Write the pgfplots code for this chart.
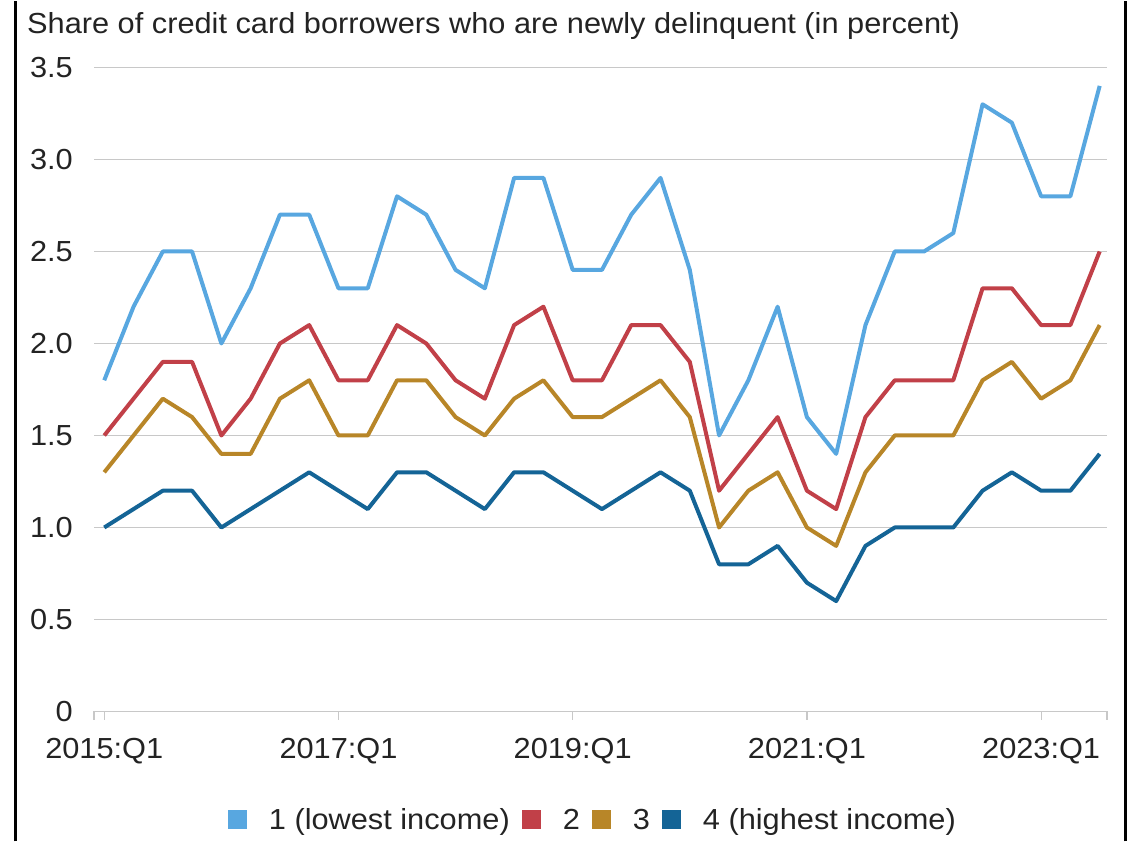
\documentclass[border=0pt]{standalone}
\usepackage{fontspec}
\setmainfont{Liberation Sans}[FakeStretch=1.06]
\usepackage{pgfplots}
\pgfplotsset{compat=1.18}
\newcommand\f{\fontsize{29pt}{34pt}\selectfont}
\definecolor{c1}{RGB}{88,167,224}
\definecolor{c2}{RGB}{193,64,72}
\definecolor{c3}{RGB}{184,134,40}
\definecolor{c4}{RGB}{20,100,150}
\definecolor{txt}{RGB}{35,35,35}
\definecolor{gridc}{RGB}{200,200,200}
\begin{document}
\begin{tikzpicture}
\path (0pt,0pt) rectangle (1140pt,840pt);
\draw[black,line width=3pt] (15.5pt,0pt) -- (15.5pt,840pt);
\draw[black,line width=3pt] (1125pt,0pt) -- (1125pt,840pt);
\node[anchor=base west, inner sep=0pt, font=\f, text=txt] at (27pt,808pt) {Share of credit card borrowers who are newly delinquent (in percent)};
\begin{axis}[
  at={(94pt,130pt)}, anchor=south west,
  scale only axis, width=1013pt, height=644pt,
  xmin=-0.35, xmax=34.25, ymin=0, ymax=3.5,
  axis x line*=bottom, axis y line*=left,
  y axis line style={draw=none},
  x axis line style={gridc, line width=1.5pt},
  xtick={0,8,16,24,32},
  xticklabels={2015:Q1,2017:Q1,2019:Q1,2021:Q1,2023:Q1},
  extra x ticks={-0.35,34.25}, extra x tick labels={},
  extra x tick style={grid=none},
  ytick={0,0.5,1,1.5,2,2.5,3,3.5},
  yticklabels={0,0.5,1.0,1.5,2.0,2.5,3.0,3.5},
  ymajorgrids, grid style={gridc, line width=1.5pt},
  tick align=outside, major tick length=8pt,
  xtick style={gridc, line width=1.2pt},
  ytick style={draw=none},
  ticklabel style={font=\f, text=txt, inner sep=0pt},
  yticklabel style={anchor=east, xshift=-13pt},
  xticklabel style={anchor=north, yshift=-19pt},
  legend columns=4,
  legend style={at={(0.4925,-0.168)}, anchor=center, draw=none, fill=none, font=\f, text=txt,
    /tikz/every odd column/.append style={column sep=20pt},
    /tikz/every even column/.append style={column sep=10pt},
    nodes={inner sep=2pt}},
  legend image code/.code={\fill[#1,draw=none] (0pt,-9.5pt) rectangle (19pt,9.5pt);},
  every axis plot/.append style={line width=4pt, line join=round, no markers},
]
\addplot[c1] coordinates {(0,1.8)(1,2.2)(2,2.5)(3,2.5)(4,2.0)(5,2.3)(6,2.7)(7,2.7)(8,2.3)(9,2.3)(10,2.8)(11,2.7)(12,2.4)(13,2.3)(14,2.9)(15,2.9)(16,2.4)(17,2.4)(18,2.7)(19,2.9)(20,2.4)(21,1.5)(22,1.8)(23,2.2)(24,1.6)(25,1.4)(26,2.1)(27,2.5)(28,2.5)(29,2.6)(30,3.3)(31,3.2)(32,2.8)(33,2.8)(34,3.4)};
\addlegendentry{1 (lowest income)}
\addplot[c2] coordinates {(0,1.5)(1,1.7)(2,1.9)(3,1.9)(4,1.5)(5,1.7)(6,2.0)(7,2.1)(8,1.8)(9,1.8)(10,2.1)(11,2.0)(12,1.8)(13,1.7)(14,2.1)(15,2.2)(16,1.8)(17,1.8)(18,2.1)(19,2.1)(20,1.9)(21,1.2)(22,1.4)(23,1.6)(24,1.2)(25,1.1)(26,1.6)(27,1.8)(28,1.8)(29,1.8)(30,2.3)(31,2.3)(32,2.1)(33,2.1)(34,2.5)};
\addlegendentry{2}
\addplot[c3] coordinates {(0,1.3)(1,1.5)(2,1.7)(3,1.6)(4,1.4)(5,1.4)(6,1.7)(7,1.8)(8,1.5)(9,1.5)(10,1.8)(11,1.8)(12,1.6)(13,1.5)(14,1.7)(15,1.8)(16,1.6)(17,1.6)(18,1.7)(19,1.8)(20,1.6)(21,1.0)(22,1.2)(23,1.3)(24,1.0)(25,0.9)(26,1.3)(27,1.5)(28,1.5)(29,1.5)(30,1.8)(31,1.9)(32,1.7)(33,1.8)(34,2.1)};
\addlegendentry{3}
\addplot[c4] coordinates {(0,1.0)(1,1.1)(2,1.2)(3,1.2)(4,1.0)(5,1.1)(6,1.2)(7,1.3)(8,1.2)(9,1.1)(10,1.3)(11,1.3)(12,1.2)(13,1.1)(14,1.3)(15,1.3)(16,1.2)(17,1.1)(18,1.2)(19,1.3)(20,1.2)(21,0.8)(22,0.8)(23,0.9)(24,0.7)(25,0.6)(26,0.9)(27,1.0)(28,1.0)(29,1.0)(30,1.2)(31,1.3)(32,1.2)(33,1.2)(34,1.4)};
\addlegendentry{4 (highest income)}
\end{axis}
\end{tikzpicture}
\end{document}
